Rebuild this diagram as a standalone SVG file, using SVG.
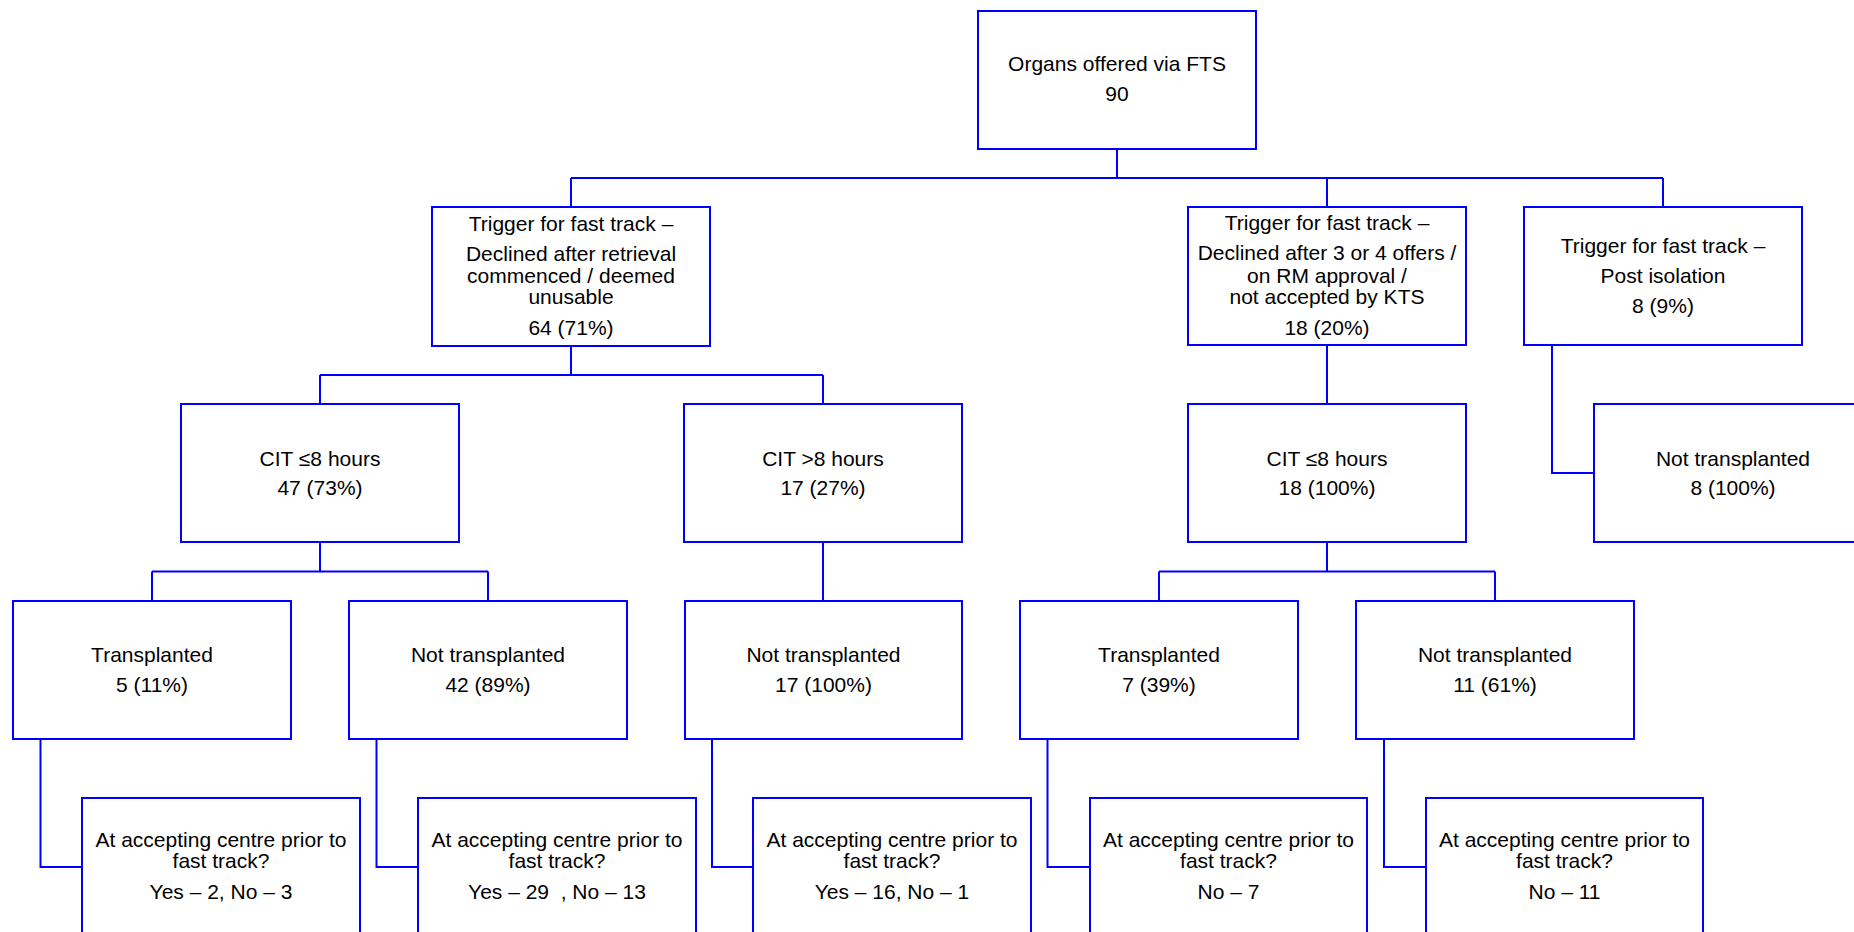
<svg xmlns="http://www.w3.org/2000/svg" width="1854" height="932" viewBox="0 0 1854 932">
<style>
rect{fill:#fff;stroke:#0000ff;stroke-width:2}
.c path{fill:none;stroke:#0000ff;stroke-width:2}
text{font-family:"Liberation Sans",Arial,sans-serif;font-size:21px;fill:#000;text-anchor:middle}
</style>
<rect x="0" y="0" width="1854" height="932" style="stroke:none"/>
<g class="c" id="connectors">
<path d="M1117 149V178M571 178H1663M571 178V207M1327 178V207M1663 178V207"/>
<path d="M571 346V375M320 375H823M320 375V404M823 375V404"/>
<path d="M1327 345V404M1552 345V473H1594"/>
<path d="M320 542V571.5M152 571.5H488M152 571.5V601M488 571.5V601"/>
<path d="M823 542V601"/>
<path d="M1327 542V571.5M1159 571.5H1495M1159 571.5V601M1495 571.5V601"/>
<path d="M40.5 739V867H82M376.5 739V867H418M712 739V867H753M1047.5 739V867H1090M1384 739V867H1426"/>
</g>
<g id="root"><rect x="978" y="11" width="278" height="138"/><text x="1117" y="71">Organs offered via FTS</text><text x="1117" y="101">90</text></g>
<g id="trigger1"><rect x="432" y="207" width="278" height="139"/><text x="571" y="231">Trigger for fast track –</text><text x="571" y="261">Declined after retrieval</text><text x="571" y="283">commenced / deemed</text><text x="571" y="304">unusable</text><text x="571" y="335">64 (71%)</text></g>
<g id="trigger2"><rect x="1188" y="207" width="278" height="138"/><text x="1327" y="230">Trigger for fast track –</text><text x="1327" y="260">Declined after 3 or 4 offers /</text><text x="1327" y="283">on RM approval /</text><text x="1327" y="304">not accepted by KTS</text><text x="1327" y="335">18 (20%)</text></g>
<g id="trigger3"><rect x="1524" y="207" width="278" height="138"/><text x="1663" y="253">Trigger for fast track –</text><text x="1663" y="283">Post isolation</text><text x="1663" y="313">8 (9%)</text></g>
<g id="cit1"><rect x="181" y="404" width="278" height="138"/><text x="320" y="466">CIT ≤8 hours</text><text x="320" y="495">47 (73%)</text></g>
<g id="cit2"><rect x="684" y="404" width="278" height="138"/><text x="823" y="466">CIT &gt;8 hours</text><text x="823" y="495">17 (27%)</text></g>
<g id="cit3"><rect x="1188" y="404" width="278" height="138"/><text x="1327" y="466">CIT ≤8 hours</text><text x="1327" y="495">18 (100%)</text></g>
<g id="nt4"><rect x="1594" y="404" width="278" height="138"/><text x="1733" y="466">Not transplanted</text><text x="1733" y="495">8 (100%)</text></g>
<g id="t1"><rect x="13" y="601" width="278" height="138"/><text x="152" y="662">Transplanted</text><text x="152" y="692">5 (11%)</text></g>
<g id="nt1"><rect x="349" y="601" width="278" height="138"/><text x="488" y="662">Not transplanted</text><text x="488" y="692">42 (89%)</text></g>
<g id="nt2"><rect x="685" y="601" width="277" height="138"/><text x="823.5" y="662">Not transplanted</text><text x="823.5" y="692">17 (100%)</text></g>
<g id="t3"><rect x="1020" y="601" width="278" height="138"/><text x="1159" y="662">Transplanted</text><text x="1159" y="692">7 (39%)</text></g>
<g id="nt3"><rect x="1356" y="601" width="278" height="138"/><text x="1495" y="662">Not transplanted</text><text x="1495" y="692">11 (61%)</text></g>
<g id="q1"><rect x="82" y="798" width="278" height="200"/><text x="221" y="847">At accepting centre prior to</text><text x="221" y="868">fast track?</text><text x="221" y="899">Yes – 2, No – 3</text></g>
<g id="q2"><rect x="418" y="798" width="278" height="200"/><text x="557" y="847">At accepting centre prior to</text><text x="557" y="868">fast track?</text><text x="557" y="899" style="white-space:pre">Yes – 29  , No – 13</text></g>
<g id="q3"><rect x="753" y="798" width="278" height="200"/><text x="892" y="847">At accepting centre prior to</text><text x="892" y="868">fast track?</text><text x="892" y="899">Yes – 16, No – 1</text></g>
<g id="q4"><rect x="1090" y="798" width="277" height="200"/><text x="1228.5" y="847">At accepting centre prior to</text><text x="1228.5" y="868">fast track?</text><text x="1228.5" y="899">No – 7</text></g>
<g id="q5"><rect x="1426" y="798" width="277" height="200"/><text x="1564.5" y="847">At accepting centre prior to</text><text x="1564.5" y="868">fast track?</text><text x="1564.5" y="899">No – 11</text></g>
</svg>
